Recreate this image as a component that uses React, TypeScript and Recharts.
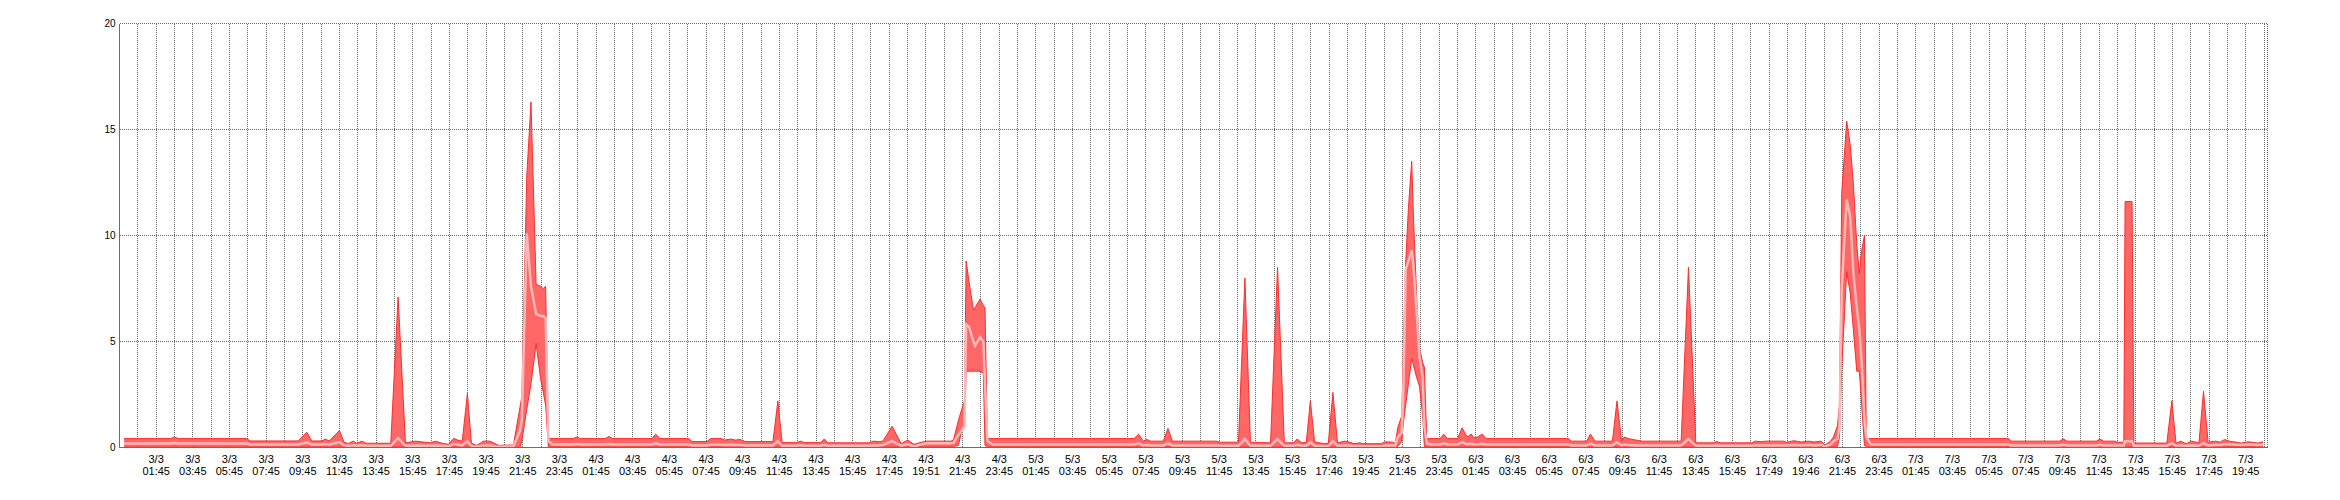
import { Area, CartesianGrid, ComposedChart, Line, XAxis, YAxis } from "recharts";

// sample times, in hours from 3/3 00:00 (one line per stretch of the chart)
const hours = [
  0, 2.55, 2.75, 2.95, 6.7, 6.87, 9.5, 9.97, 10.24, 10.8, 10.97, 11.2, 11.75, 12.0, 12.25, 12.5, 12.7, 12.97, 13.2,
  14.55, 14.95, 15.35, 15.9, 16.7, 17.0, 17.35, 17.7, 17.98, 18.2, 18.45, 18.73, 18.95, 19.25, 19.6, 19.95, 20.2, 20.45, 21.24,
  21.6, 21.7, 21.97, 22.2, 22.48, 22.73, 22.87, 23.0, 23.15, 23.4,
  24.5, 24.7, 24.9, 26.25, 26.45, 26.65, 28.8, 29.0, 29.25, 30.8, 31.0, 31.8, 32.0, 32.6, 32.75, 33.1, 33.35, 33.6, 33.9, 35.4, 35.67, 35.9, 36.7, 36.9, 37.1, 38.0, 38.2, 38.4, 40.6, 40.9, 41.15, 41.4, 41.9, 42.4, 42.75, 43.1, 43.5, 43.8, 45.1,
  45.25, 45.52, 45.7, 45.85, 45.94, 46.1, 46.34, 46.43, 46.7, 46.88, 46.97, 47.1, 47.4,
  55.1, 55.35, 55.6, 55.8, 56.0, 56.7, 56.95, 57.2, 59.6, 59.8, 60.8, 61.15, 61.45, 62.55, 62.93, 63.3, 63.8, 64.0, 64.25, 64.5, 64.72, 64.95, 65.45, 65.7, 65.95, 66.2, 66.6, 66.8, 67.1, 67.4, 67.6, 68.6, 68.8, 69.2, 69.35,
  69.5, 69.71, 69.8, 69.92, 70.07, 70.25, 70.34, 70.52, 70.67, 70.85, 70.94, 71.07, 71.3,
  71.8, 72.0, 72.2, 72.75, 73.0, 73.27, 73.5, 73.65, 73.85, 74.1, 74.3, 78.8, 78.95, 79.8, 80.0, 80.25, 81.2, 81.45, 81.7, 81.85, 82.05, 82.5, 82.8, 84.95, 85.35, 85.75, 86.7, 86.9, 87.1, 88.8, 89.0, 89.3, 89.6, 90.5, 90.7, 91.1, 91.5, 91.9, 92.2, 92.6, 92.8, 93.1, 93.26,
  93.48, 93.59, 93.71, 93.98, 94.17, 94.35, 94.53, 94.67, 94.8, 94.95, 95.05, 95.3,
  102.8, 102.95, 105.6, 105.8, 106.0, 107.6, 107.8, 108.0, 108.6, 108.75, 109.1, 109.17, 109.55, 109.65, 111.45, 111.72, 111.95, 112.2, 112.5, 112.8, 113.2, 113.45, 113.7, 114.1, 114.35, 114.6, 114.85, 115.1, 115.5, 115.9, 116.4, 116.7,
];

const maxValues = [
  0.42, 0.42, 0.5, 0.42, 0.42, 0.31, 0.31, 0.72, 0.31, 0.31, 0.4, 0.31, 0.8, 0.25, 0.19, 0.3, 0.2, 0.3, 0.2,
  0.2, 7.1, 0.22, 0.3, 0.22, 0.3, 0.2, 0.15, 0.43, 0.35, 0.3, 2.55, 0.2, 0.1, 0.3, 0.3, 0.2, 0.1, 0.12,
  1.9, 2.4, 12.8, 16.3, 7.7, 7.6, 7.5, 7.6, 0.42, 0.42,
  0.42, 0.5, 0.42, 0.42, 0.52, 0.42, 0.42, 0.63, 0.42, 0.42, 0.28, 0.28, 0.42, 0.42, 0.35, 0.4, 0.35, 0.38, 0.28, 0.28, 2.2, 0.23, 0.23, 0.3, 0.23, 0.23, 0.4, 0.22, 0.22, 0.3, 0.28, 0.3, 1.0, 0.18, 0.35, 0.15, 0.25, 0.3, 0.3,
  0.35, 1.29, 1.8, 2.2, 8.8, 7.8, 6.5, 6.6, 7.0, 6.7, 6.6, 0.42, 0.42,
  0.42, 0.63, 0.3, 0.38, 0.3, 0.3, 0.9, 0.3, 0.3, 0.25, 0.25, 8.0, 0.25, 0.22, 8.5, 0.22, 0.22, 0.4, 0.22, 0.25, 2.2, 0.27, 0.18, 0.2, 2.6, 0.22, 0.3, 0.27, 0.18, 0.22, 0.18, 0.18, 0.27, 0.25, 0.2,
  0.97, 1.5, 4.9, 8.7, 11.3, 13.5, 11.0, 7.1, 4.7, 4.0, 3.8, 0.42, 0.42,
  0.42, 0.63, 0.42, 0.42, 0.93, 0.5, 0.63, 0.45, 0.5, 0.63, 0.42, 0.42, 0.3, 0.3, 0.63, 0.3, 0.3, 2.2, 0.3, 0.5, 0.42, 0.35, 0.3, 0.3, 8.5, 0.22, 0.22, 0.28, 0.22, 0.22, 0.3, 0.27, 0.3, 0.3, 0.25, 0.32, 0.26, 0.3, 0.26, 0.3, 0.12, 0.3, 0.5,
  1.03, 2.0, 12.0, 15.4, 14.3, 12.4, 9.6, 8.2, 9.3, 10.0, 0.42, 0.42,
  0.42, 0.3, 0.3, 0.4, 0.3, 0.3, 0.4, 0.3, 0.3, 0.25, 0.25, 11.6, 11.6, 0.21, 0.21, 2.2, 0.2, 0.3, 0.18, 0.3, 0.22, 2.65, 0.25, 0.3, 0.25, 0.38, 0.3, 0.27, 0.21, 0.27, 0.21, 0.27,
];

const minValues = [
  0.03, 0.03, 0.03, 0.03, 0.03, 0.03, 0.03, 0.03, 0.03, 0.03, 0.03, 0.03, 0.03, 0.02, 0.02, 0.02, 0.02, 0.02, 0.02,
  0.02, 0.02, 0.02, 0.02, 0.02, 0.02, 0.02, 0.01, 0.02, 0.02, 0.02, 0.02, 0.01, 0.01, 0.01, 0.01, 0.01, 0.01, 0.01,
  0.01, 0.3, 1.8, 3.0, 4.9, 3.2, 2.6, 2.0, 0.03, 0.03,
  0.03, 0.03, 0.03, 0.03, 0.03, 0.03, 0.03, 0.03, 0.03, 0.03, 0.02, 0.02, 0.02, 0.02, 0.02, 0.02, 0.02, 0.02, 0.02, 0.02, 0.02, 0.02, 0.02, 0.02, 0.02, 0.02, 0.02, 0.02, 0.02, 0.02, 0.02, 0.02, 0.02, 0.02, 0.02, 0.02, 0.02, 0.02, 0.02,
  0.05, 0.1, 0.8, 1.0, 3.6, 3.6, 3.6, 3.6, 3.6, 3.5, 0.1, 0.03, 0.03,
  0.03, 0.03, 0.02, 0.02, 0.02, 0.02, 0.02, 0.02, 0.02, 0.02, 0.02, 0.02, 0.02, 0.02, 0.02, 0.02, 0.02, 0.02, 0.02, 0.02, 0.02, 0.02, 0.02, 0.02, 0.02, 0.02, 0.02, 0.02, 0.02, 0.02, 0.02, 0.02, 0.02, 0.02, 0.02,
  0.05, 0.3, 1.2, 2.0, 3.0, 4.2, 3.9, 3.3, 2.9, 1.5, 0.05, 0.03, 0.03,
  0.03, 0.03, 0.03, 0.03, 0.03, 0.03, 0.03, 0.03, 0.03, 0.03, 0.03, 0.03, 0.02, 0.02, 0.02, 0.02, 0.02, 0.02, 0.02, 0.02, 0.02, 0.02, 0.02, 0.02, 0.02, 0.02, 0.02, 0.02, 0.02, 0.02, 0.02, 0.02, 0.02, 0.02, 0.02, 0.02, 0.02, 0.02, 0.02, 0.02, 0.01, 0.02, 0.03,
  0.05, 0.5, 3.7, 8.3, 7.3, 5.5, 3.6, 3.6, 2.0, 0.1, 0.03, 0.03,
  0.03, 0.02, 0.02, 0.02, 0.02, 0.02, 0.02, 0.02, 0.02, 0.02, 0.02, 0.02, 0.02, 0.02, 0.02, 0.02, 0.02, 0.02, 0.02, 0.02, 0.02, 0.02, 0.02, 0.02, 0.02, 0.02, 0.02, 0.02, 0.02, 0.02, 0.02, 0.02,
];

const avgValues = [
  0.19, 0.19, 0.21, 0.19, 0.19, 0.14, 0.14, 0.24, 0.14, 0.14, 0.16, 0.14, 0.26, 0.1, 0.08, 0.1, 0.08, 0.1, 0.08,
  0.08, 0.45, 0.08, 0.1, 0.08, 0.1, 0.08, 0.06, 0.16, 0.13, 0.1, 0.3, 0.07, 0.04, 0.1, 0.1, 0.06, 0.04, 0.05,
  0.8, 1.3, 10.1, 7.6, 6.3, 6.2, 6.2, 6.1, 0.3, 0.14,
  0.14, 0.16, 0.14, 0.14, 0.17, 0.14, 0.14, 0.2, 0.14, 0.14, 0.1, 0.1, 0.13, 0.13, 0.12, 0.13, 0.12, 0.12, 0.1, 0.1, 0.3, 0.08, 0.08, 0.1, 0.08, 0.08, 0.12, 0.08, 0.08, 0.1, 0.1, 0.12, 0.3, 0.08, 0.15, 0.05, 0.15, 0.2, 0.2,
  0.22, 0.6, 0.8, 1.0, 5.8, 5.7, 5.0, 4.8, 5.2, 5.0, 3.0, 0.3, 0.14,
  0.14, 0.2, 0.1, 0.12, 0.1, 0.1, 0.2, 0.1, 0.1, 0.08, 0.08, 0.4, 0.08, 0.08, 0.4, 0.08, 0.08, 0.12, 0.08, 0.08, 0.25, 0.08, 0.06, 0.06, 0.3, 0.08, 0.1, 0.09, 0.06, 0.07, 0.06, 0.06, 0.1, 0.1, 0.1,
  0.5, 0.7, 3.0, 8.4, 8.8, 9.3, 8.6, 6.4, 4.3, 3.3, 1.0, 0.2, 0.14,
  0.14, 0.2, 0.14, 0.14, 0.25, 0.15, 0.18, 0.14, 0.15, 0.18, 0.14, 0.14, 0.1, 0.1, 0.18, 0.1, 0.1, 0.25, 0.1, 0.14, 0.12, 0.1, 0.1, 0.1, 0.4, 0.08, 0.08, 0.09, 0.08, 0.08, 0.1, 0.1, 0.1, 0.1, 0.1, 0.12, 0.1, 0.12, 0.1, 0.12, 0.05, 0.15, 0.3,
  0.4, 1.0, 7.5, 11.7, 10.9, 8.2, 6.6, 5.6, 4.0, 1.3, 0.5, 0.14,
  0.14, 0.1, 0.1, 0.13, 0.1, 0.1, 0.13, 0.1, 0.1, 0.1, 0.1, 0.3, 0.3, 0.08, 0.08, 0.2, 0.08, 0.1, 0.08, 0.1, 0.08, 0.2, 0.1, 0.12, 0.12, 0.15, 0.15, 0.14, 0.12, 0.15, 0.12, 0.14,
];

// labels sit on every second hourly gridline, starting at 3/3 01:45
const tickLabels = [
  "3/3 01:45", "3/3 03:45", "3/3 05:45", "3/3 07:45", "3/3 09:45", "3/3 11:45",
  "3/3 13:45", "3/3 15:45", "3/3 17:45", "3/3 19:45", "3/3 21:45", "3/3 23:45",
  "4/3 01:45", "4/3 03:45", "4/3 05:45", "4/3 07:45", "4/3 09:45", "4/3 11:45",
  "4/3 13:45", "4/3 15:45", "4/3 17:45", "4/3 19:51", "4/3 21:45", "4/3 23:45",
  "5/3 01:45", "5/3 03:45", "5/3 05:45", "5/3 07:45", "5/3 09:45", "5/3 11:45",
  "5/3 13:45", "5/3 15:45", "5/3 17:46", "5/3 19:45", "5/3 21:45", "5/3 23:45",
  "6/3 01:45", "6/3 03:45", "6/3 05:45", "6/3 07:45", "6/3 09:45", "6/3 11:45",
  "6/3 13:45", "6/3 15:45", "6/3 17:49", "6/3 19:46", "6/3 21:45", "6/3 23:45",
  "7/3 01:45", "7/3 03:45", "7/3 05:45", "7/3 07:45", "7/3 09:45", "7/3 11:45",
  "7/3 13:45", "7/3 15:45", "7/3 17:45", "7/3 19:45",
];

const yTicks = [0, 5, 10, 15, 20];

// one gridline per hour, 3/3 00:45 .. 7/3 20:45
const hourTicks = Array.from({ length: 117 }, (_, i) => i + 0.75);

const data = hours.map((t, i) => ({
  t,
  band: [minValues[i], maxValues[i]],
  avg: avgValues[i],
}));

const FONT = '"Liberation Sans", Arial, sans-serif';

function TimeTick({ x, y, payload }: any) {
  const i = Math.round(payload.value - 0.75);
  if (i % 2 === 0) return <g />;
  const label = tickLabels[(i - 1) / 2];
  if (!label) return <g />;
  const [day, time] = label.split(" ");
  return (
    <text x={x} y={y} textAnchor="middle" fontSize={11} fill="#000" fontFamily={FONT}>
      <tspan x={x} dy={15.5}>{day}</tspan>
      <tspan x={x} dy={12}>{time}</tspan>
    </text>
  );
}

export default function App() {
  return (
    <div style={{ position: "absolute", left: 0, top: 0, width: 2340, height: 500, background: "#fff" }}>
      <style>{".recharts-cartesian-grid line, .recharts-cartesian-axis-line { shape-rendering: crispEdges; }"}</style>
      <ComposedChart
        width={2340}
        height={500}
        data={data}
        margin={{ top: 23.5, right: 72.5, bottom: 0, left: 0.5 }}
      >
        <CartesianGrid stroke="#686868" strokeDasharray="1 1" />
        <XAxis
          dataKey="t"
          type="number"
          domain={[-0.25, 116.94]}
          ticks={hourTicks}
          interval={0}
          height={52.5}
          tickLine={false}
          tickSize={0}
          tickMargin={0}
          axisLine={{ stroke: "#6e6e6e" }}
          tick={<TimeTick />}
        />
        <YAxis
          type="number"
          domain={[0, 20]}
          ticks={yTicks}
          width={119}
          tickLine={false}
          tickSize={0}
          tickMargin={4}
          axisLine={{ stroke: "#6e6e6e" }}
          tick={{ fill: "#000", fontSize: 10, fontFamily: FONT }}
        />
        <Area
          dataKey="band"
          type="linear"
          fill="#ff6666"
          fillOpacity={1}
          stroke="#ff2e2e"
          strokeWidth={1}
          dot={false}
          activeDot={false}
          isAnimationActive={false}
        />
        <Line
          dataKey="avg"
          type="linear"
          stroke="#ffb8b8"
          strokeWidth={2.5}
          dot={false}
          activeDot={false}
          isAnimationActive={false}
        />
      </ComposedChart>
    </div>
  );
}
